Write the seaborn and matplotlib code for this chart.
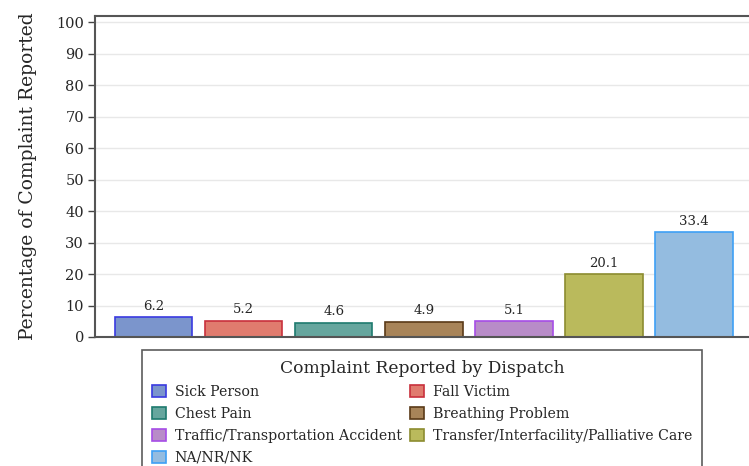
import matplotlib
matplotlib.use('Agg')
import matplotlib.pyplot as plt
import pandas as pd
import seaborn as sns
from matplotlib.patches import Patch

# Dados
complaints = [
    'Sick Person', 'Fall Victim', 'Chest Pain', 'Breathing Problem',
    'Traffic/Transportation Accident', 'Transfer/Interfacility/Palliative Care',
    'NA/NR/NK'
]
percentages = [6.2, 5.2, 4.6, 4.9, 5.1, 20.1, 33.4]
fill_colors = ['#7b95cc', '#e07b6e', '#66a69e', '#a88459', '#b88cc8', '#baba5c', '#94bce0']
edge_colors = ['#3a3ae0', '#c8303c', '#1e7a6e', '#5a3a18', '#a64de6', '#8c8c30', '#3ea0f5']
y_ticks = [0, 10, 20, 30, 40, 50, 60, 70, 80, 90, 100]

df = pd.DataFrame({'complaint': complaints, 'pct': percentages})

sns.set_theme(style='white')
plt.rcParams['font.family'] = ['DejaVu Serif']

fig = plt.figure(figsize=(7.49, 4.66), dpi=100)
ax = fig.add_axes([95 / 749, 1 - 337 / 466, 1 - 95 / 749, (337 - 16) / 466])

sns.barplot(data=df, x='complaint', y='pct', hue='complaint',
            palette=fill_colors, width=0.86, legend=False, ax=ax, saturation=1)
for patch, ec in zip(ax.patches, edge_colors):
    patch.set_edgecolor(ec)
    patch.set_linewidth(1.2)

for c in ax.containers:
    ax.bar_label(c, fmt='%.1f', padding=3, fontsize=9.5)

ax.set_xlim(-0.65, 6.61)
ax.set_ylim(0, 102)
ax.set_yticks(y_ticks)
ax.tick_params(axis='y', labelsize=10.5, length=5, width=1, color='#444444', left=True, pad=3)
ax.set_xticks([])
ax.set_xlabel('')
ax.set_ylabel('Percentage of Complaint Reported', fontsize=13.5, labelpad=14)
ax.yaxis.grid(True, color='#e8e8e8', linewidth=1)
ax.set_axisbelow(True)
for side in ['left', 'top', 'bottom']:
    ax.spines[side].set_color('#555555')
    ax.spines[side].set_linewidth(1.5)
ax.spines['right'].set_visible(False)

# Legenda em duas colunas, preenchida por linha
handles = [Patch(facecolor=f, edgecolor=e, linewidth=1.2) for f, e in zip(fill_colors, edge_colors)]
order = [0, 2, 4, 6, 1, 3, 5]
leg = fig.legend([handles[i] for i in order], [complaints[i] for i in order],
                 title='Complaint Reported by Dispatch', ncol=2,
                 loc='upper left', bbox_to_anchor=(142 / 749, 1 - 350 / 466),
                 fontsize=10.2, title_fontsize=12.3, frameon=True, fancybox=False,
                 edgecolor='#333333', handlelength=1.0, handleheight=1.0,
                 handletextpad=0.6, columnspacing=0.6, labelspacing=0.55,
                 borderpad=0.7, borderaxespad=0)
leg.get_frame().set_linewidth(1.2)

fig.savefig('out.png', dpi=100)
